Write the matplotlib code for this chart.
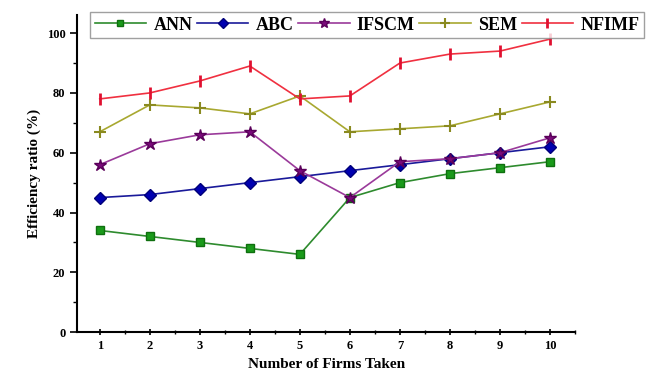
import matplotlib
matplotlib.use('Agg')
import matplotlib.pyplot as plt
from matplotlib.ticker import MultipleLocator

firms = [1, 2, 3, 4, 5, 6, 7, 8, 9, 10]
ann = [34, 32, 30, 28, 26, 45, 50, 53, 55, 57]
abc = [45, 46, 48, 50, 52, 54, 56, 58, 60, 62]
ifscm = [56, 63, 66, 67, 54, 45, 57, 58, 60, 65]
sem = [67, 76, 75, 73, 79, 67, 68, 69, 73, 77]
nfimf = [78, 80, 84, 89, 78, 79, 90, 93, 94, 98]

plt.rcParams['font.family'] = ['Liberation Serif', 'DejaVu Serif']
plt.rcParams['font.weight'] = 'bold'

fig = plt.figure(figsize=(6.49, 3.80), dpi=100)
ax = fig.add_axes([0.119, 0.126, 0.767, 0.834])

ax.plot(firms, ann, color='#2e8b2e', marker='s', markersize=6,
        markerfacecolor='#1a9a1a', markeredgecolor='#0f6f0f', lw=1.2, label='ANN')
ax.plot(firms, abc, color='#1a1a9a', marker='D', markersize=6,
        markerfacecolor='#0000b0', markeredgecolor='#00007a', lw=1.2, label='ABC')
ax.plot(firms, ifscm, color='#9a3a9a', marker='*', markersize=9,
        markerfacecolor='#7a0a7a', markeredgecolor='#5a005a', lw=1.2, label='IFSCM')
ax.plot(firms, sem, color='#a8a830', marker='+', markersize=9,
        markeredgecolor='#8a8a20', markeredgewidth=1.5, lw=1.2, label='SEM')
ax.plot(firms, nfimf, color='#f03040', marker='|', markersize=9,
        markeredgecolor='#e01030', markeredgewidth=2, lw=1.2, label='NFIMF')

ax.set_xlim(0.55, 10.5)
ax.set_ylim(0, 106)
ax.set_xticks(firms)
ax.xaxis.set_minor_locator(MultipleLocator(0.5))
ax.yaxis.set_major_locator(MultipleLocator(20))
ax.yaxis.set_minor_locator(MultipleLocator(10))
ax.spines['top'].set_visible(False)
ax.spines['right'].set_visible(False)
ax.spines['left'].set_linewidth(1.5)
ax.spines['bottom'].set_linewidth(1.5)
ax.tick_params(axis='both', which='major', length=5, width=1.2, labelsize=9, direction='out')
ax.tick_params(axis='both', which='minor', length=3, width=1.0)
ax.tick_params(axis='x', which='both', direction='inout')

ax.set_xlabel('Number of Firms Taken', fontsize=11, fontweight='bold')
ax.set_ylabel('Efficiency ratio (%)', fontsize=11, fontweight='bold')

fig.legend(loc='upper left', bbox_to_anchor=(0.139, 0.968), ncol=5,
           frameon=True, fancybox=False, edgecolor='#888888',
           prop={'weight': 'bold', 'size': 13}, handlelength=2.85,
           handletextpad=0.4, columnspacing=0.25, borderpad=0.25,
           borderaxespad=0, markerscale=0.8)

fig.savefig('out.png', dpi=100)
